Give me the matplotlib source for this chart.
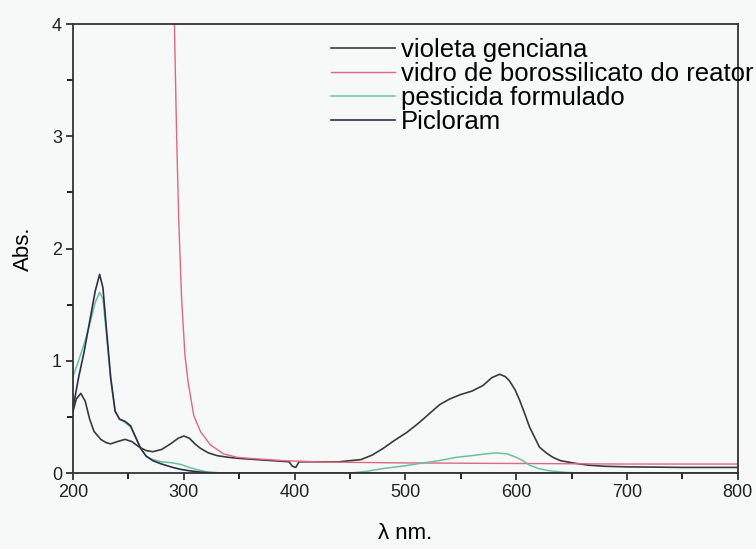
import numpy as np
import matplotlib.pyplot as plt

plt.rcParams['font.family'] = ['Liberation Sans', 'DejaVu Sans']

# espectros UV-Vis (lambda em nm, absorbancia)
wl_violeta = [200, 203, 207, 211, 215, 219, 225, 230, 234, 240, 247, 253, 260, 266, 272,
              280, 288, 295, 300, 305, 310, 315, 322, 330, 340, 350, 365, 380, 395, 398,
              401, 404, 420, 440, 460, 470, 480, 490, 501, 510, 516, 524, 531, 540, 550,
              560, 570, 578, 585, 590, 594, 599, 603, 608, 612, 617, 621, 627, 633, 640,
              651, 665, 680, 700, 750, 800]
abs_violeta = [0.55, 0.66, 0.71, 0.64, 0.48, 0.37, 0.30, 0.27, 0.26, 0.28, 0.30, 0.28, 0.23,
               0.20, 0.19, 0.21, 0.26, 0.31, 0.33, 0.31, 0.26, 0.22, 0.18, 0.155, 0.14, 0.13,
               0.12, 0.11, 0.10, 0.06, 0.05, 0.10, 0.10, 0.10, 0.12, 0.16, 0.22, 0.29, 0.36,
               0.43, 0.48, 0.55, 0.61, 0.66, 0.70, 0.73, 0.78, 0.85, 0.88, 0.86, 0.82, 0.74,
               0.65, 0.52, 0.41, 0.31, 0.23, 0.18, 0.14, 0.11, 0.09, 0.07, 0.06, 0.055, 0.05,
               0.05]

wl_vidro = [289, 291.5, 293.5, 295.4, 298, 301, 304, 309, 315, 324, 336, 348, 360, 375, 390,
            420, 450, 500, 600, 700, 800]
abs_vidro = [4.6, 4.0, 3.0, 2.25, 1.55, 1.05, 0.80, 0.51, 0.37, 0.25, 0.17, 0.14, 0.13, 0.12,
             0.11, 0.10, 0.095, 0.09, 0.085, 0.08, 0.08]

wl_pesticida = [200, 205, 210, 215, 220, 224, 227, 230, 234, 238, 242, 247, 252, 256, 261,
                266, 272, 280, 290, 297, 305, 312, 320, 330, 340, 450, 465, 480, 500, 516,
                530, 546, 560, 572, 582, 592, 600, 606, 612, 620, 630, 645, 660, 800]
abs_pesticida = [0.86, 1.0, 1.15, 1.32, 1.52, 1.61, 1.55, 1.25, 0.83, 0.55, 0.48, 0.45, 0.41,
                 0.33, 0.22, 0.15, 0.12, 0.10, 0.09, 0.077, 0.05, 0.03, 0.012, 0.003, 0.0,
                 0.0, 0.015, 0.04, 0.065, 0.09, 0.11, 0.14, 0.155, 0.17, 0.18, 0.17, 0.14,
                 0.11, 0.07, 0.04, 0.02, 0.005, 0.0, 0.0]

wl_picloram = [200, 205, 210, 215, 220, 224, 227, 230, 234, 238, 242, 247, 252, 256, 261,
               266, 272, 280, 290, 297, 305, 315, 325, 800]
abs_picloram = [0.58, 0.85, 1.08, 1.35, 1.62, 1.77, 1.65, 1.30, 0.85, 0.55, 0.48, 0.46, 0.42,
                0.33, 0.22, 0.15, 0.11, 0.08, 0.05, 0.033, 0.02, 0.008, 0.0, 0.0]

fig = plt.figure(figsize=(7.56, 5.49), dpi=100, facecolor='#f7f8f8')
ax = fig.add_axes([0.0966, 0.1384, 0.8794, 0.8176])
ax.set_facecolor('#f7f8f8')

ax.plot(wl_violeta, abs_violeta, color='#3a3a3a', lw=1.2, label='violeta genciana')
ax.plot(wl_vidro, abs_vidro, color='#e06882', lw=1.0, label='vidro de borossilicato do reator')
ax.plot(wl_pesticida, abs_pesticida, color='#6cc0a0', lw=1.1, label='pesticida formulado')
ax.plot(wl_picloram, abs_picloram, color='#2e2e48', lw=1.2, label='Picloram')

ax.set_xlim(200, 800)
ax.set_ylim(0, 4)
ax.set_xticks([200, 300, 400, 500, 600, 700, 800])
ax.set_xticks(np.arange(250, 800, 100), minor=True)
ax.set_yticks([0, 1, 2, 3, 4])
ax.set_yticks([0.5, 1.5, 2.5, 3.5], minor=True)
ax.tick_params(direction='out', length=5, width=1.2, labelsize=13, colors='#222222', pad=3)
ax.tick_params(which='minor', direction='out', length=4, width=1.2)
for s in ax.spines.values():
    s.set_linewidth(1.3)
    s.set_color('#333333')

ax.set_xlabel('λ nm.', fontsize=16, labelpad=16)
ax.set_ylabel('Abs.', fontsize=16, labelpad=13)

ax.legend(loc='upper left', bbox_to_anchor=(0.368, 0.997), frameon=False,
          fontsize=18.5, handlelength=2.5, handletextpad=0.23, labelspacing=0.0,
          borderpad=0)

plt.savefig('out.png', dpi=100, facecolor=fig.get_facecolor())
